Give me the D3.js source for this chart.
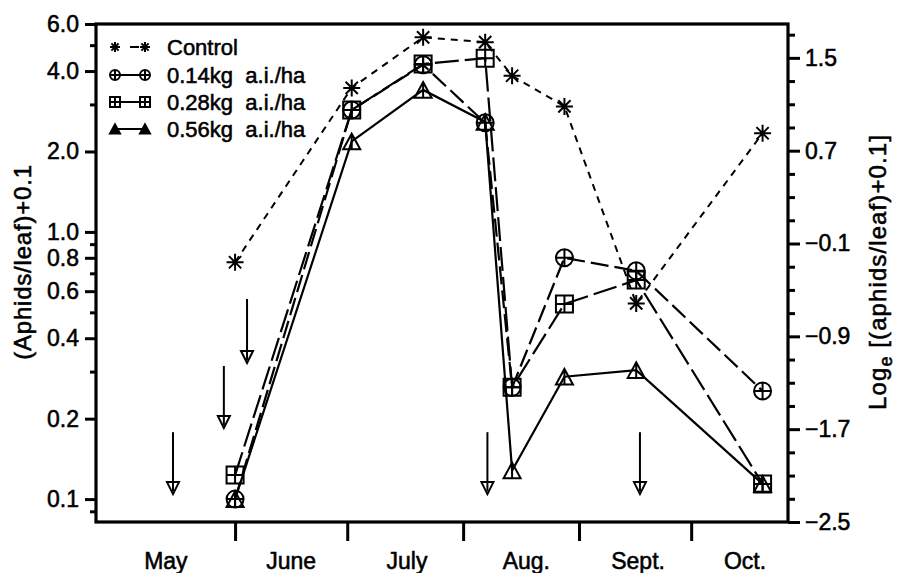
<!DOCTYPE html>
<html><head><meta charset="utf-8">
<script src="https://cdn.jsdelivr.net/npm/d3@7"></script>
<style>body{margin:0;background:#fff}</style>
</head><body>
<svg id="c" width="898" height="573"></svg>
<script>
// ---- data (days counted from 1 May) ----
const sampleDays = [31, 62.2, 81.3, 97.9, 105.1, 119.1, 138.3, 172.1];
const control  = [0.77, 3.46, 5.35, 5.13, 3.84, 2.95, 0.54, 2.34];
const dose014  = [0.10, 2.86, 4.22, 2.56, 0.262, 0.80, 0.715, 0.254];
const dose028  = [0.123, 2.86, 4.25, 4.47, 0.262, 0.537, 0.66, 0.114];
const dose056  = [0.10, 2.18, 3.40, 2.58, 0.128, 0.287, 0.304, 0.114];
const seriesNames = ["Control", "0.14kg  a.i./ha", "0.28kg  a.i./ha", "0.56kg  a.i./ha"];
// spray applications: day, arrow top value, arrow tip value
const sprayDays = [14.4, 28.0, 34.2, 98.5, 139.3];
const sprayTop  = [0.178, 0.315, 0.561, 0.178, 0.178];
const sprayTip  = [0.1044, 0.1845, 0.323, 0.1044, 0.1044];
const monthNames = ["May", "June", "July", "Aug.", "Sept.", "Oct."];
const monthLabelDays = [12.5, 46, 77, 108.9, 138.8, 167.4];
const monthTickDays = [31, 61, 92, 123, 153];
const leftTicks = [0.1, 0.2, 0.4, 0.6, 0.8, 1.0, 2.0, 4.0, 6.0];
const leftTickLabels = ["0.1", "0.2", "0.4", "0.6", "0.8", "1.0", "2.0", "4.0", "6.0"];
const leftMinor = [0.09, 0.3, 0.5, 0.7, 0.9, 3, 5];
const rightTicks = [-2.5, -1.7, -0.9, -0.1, 0.7, 1.5];
const rightMinor = [-2.3, -2.1, -1.9, -1.5, -1.3, -1.1, -0.7, -0.5, -0.3, 0.1, 0.3, 0.5, 0.9, 1.1, 1.3, 1.7];

// ---- layout ----
const L = 96, R = 788, T = 24, B = 522;
const FONT = "'Liberation Sans', Arial, sans-serif";
const TXT_STROKE = 0.55;
const svg = d3.select("#c");
svg.append("rect").attr("width", 898).attr("height", 573).attr("fill", "#fff");

const x = d3.scaleLinear().domain([-6.2, 178.9]).range([L, R]);
const y = d3.scaleLog().domain([Math.exp(-2.5), 6]).range([B, T]);
const yR = d3.scaleLinear().domain([-2.5, Math.log(6)]).range([B, T]);

function boldish(sel) { return sel.attr("stroke", "#000").attr("stroke-width", TXT_STROKE); }

// ---- axes ----
const leftAxis = d3.axisLeft(y).tickValues(leftTicks).tickFormat((d, i) => leftTickLabels[i]).tickSize(11).tickPadding(6);
const gl = svg.append("g").attr("transform", `translate(${L},0)`).call(leftAxis);
const leftMinorAxis = d3.axisLeft(y).tickValues(leftMinor).tickFormat("").tickSize(6);
const glm = svg.append("g").attr("transform", `translate(${L},0)`).call(leftMinorAxis);

const rightAxis = d3.axisRight(yR).tickValues(rightTicks).tickFormat(d => d3.format(".1f")(d).replace("-", "\u2212")).tickSize(12).tickPadding(5);
const gr = svg.append("g").attr("transform", `translate(${R},0)`).call(rightAxis);
const rightMinorAxis = d3.axisRight(yR).tickValues(rightMinor).tickFormat("").tickSize(7);
const grm = svg.append("g").attr("transform", `translate(${R},0)`).call(rightMinorAxis);

const bottomAxis = d3.axisBottom(x).tickValues(monthTickDays).tickFormat("").tickSize(19);
const gb = svg.append("g").attr("transform", `translate(0,${B})`).call(bottomAxis);

[gl, glm, gr, grm, gb].forEach(g => {
  g.select(".domain").remove();
  g.selectAll(".tick line").attr("stroke", "#000").attr("stroke-width", 3);
  boldish(g.selectAll(".tick text").attr("font-family", FONT).attr("font-size", 23).attr("fill", "#000"));
});
gr.selectAll(".tick text").attr("x", 17);

// month labels
boldish(svg.append("g").selectAll("text").data(monthNames).join("text")
  .attr("x", (d, i) => x(monthLabelDays[i])).attr("y", 569)
  .attr("text-anchor", "middle").attr("font-family", FONT).attr("font-size", 23).text(d => d));

// frame
svg.append("rect").attr("x", L).attr("y", T).attr("width", R - L).attr("height", B - T)
  .attr("fill", "none").attr("stroke", "#000").attr("stroke-width", 3.2);

// axis titles
boldish(svg.append("text").attr("transform", `translate(31,262) rotate(-90)`)
  .attr("text-anchor", "middle").attr("font-family", FONT).attr("font-size", 24).attr("letter-spacing", 0.8)
  .text("(Aphids/leaf)+0.1"));
const rt = boldish(svg.append("text").attr("transform", `translate(886,272) rotate(-90)`)
  .attr("text-anchor", "middle").attr("font-family", FONT).attr("font-size", 24).attr("letter-spacing", 1.1));
rt.append("tspan").text("Log");
rt.append("tspan").attr("font-size", 18).attr("dy", 6).text("e");
rt.append("tspan").attr("dy", -6).text(" [(aphids/leaf)+0.1]");

// ---- markers ----
function asterisk(s) {
  const a = s / 2, b = a * 0.72;
  return `M${-a},0L${a},0M0,${-a}L0,${a}M${-b},${-b}L${b},${b}M${-b},${b}L${b},${-b}`;
}
function circlePlus(s) {
  const r = s / 2;
  return `M${r},0A${r},${r} 0 1,1 ${-r},0A${r},${r} 0 1,1 ${r},0Z M${-r},0L${r},0M0,${-r}L0,${r}`;
}
function squarePlus(s) {
  const r = s / 2;
  return `M${-r},${-r}H${r}V${r}H${-r}Z M${-r},0H${r}M0,${-r}V${r}`;
}
function triangle(s) {
  const r = s / 2, h = s * 0.46;
  return `M0,${-h}L${r},${h}L${-r},${h}Z M0,${-h}V${h}`;
}
const series = [
  {name: seriesNames[0], values: control, marker: asterisk, dash: "7,6", sw: 2},
  {name: seriesNames[1], values: dose014, marker: circlePlus, dash: "18,6", sw: 2.2},
  {name: seriesNames[2], values: dose028, marker: squarePlus, dash: "24,6", sw: 2.2},
  {name: seriesNames[3], values: dose056, marker: triangle, dash: null, sw: 2.2}
];
const line = d3.line().x(d => x(d[0])).y(d => y(d[1]));
series.forEach(s => {
  const pts = sampleDays.map((d, i) => [d, s.values[i]]);
  svg.append("path").attr("d", line(pts)).attr("fill", "none").attr("stroke", "#000")
    .attr("stroke-width", s.sw).attr("stroke-dasharray", s.dash);
});
series.forEach(s => {
  const pts = sampleDays.map((d, i) => [d, s.values[i]]);
  svg.append("g").selectAll("path").data(pts).join("path")
    .attr("transform", d => `translate(${x(d[0])},${y(d[1])})`)
    .attr("d", s.marker(17)).attr("fill", "none").attr("stroke", "#000").attr("stroke-width", 2);
});

// ---- spray arrows ----
const ag = svg.append("g");
sprayDays.forEach((d, i) => {
  const xx = x(d), y0 = y(sprayTop[i]), y1 = y(sprayTip[i]);
  ag.append("line").attr("x1", xx).attr("x2", xx).attr("y1", y0).attr("y2", y1)
    .attr("stroke", "#000").attr("stroke-width", 2);
  ag.append("path").attr("d", `M${xx - 6},${y1 - 12}L${xx + 6},${y1 - 12}L${xx},${y1}Z`)
    .attr("fill", "#fff").attr("stroke", "#000").attr("stroke-width", 2);
  ag.append("line").attr("x1", xx).attr("x2", xx).attr("y1", y1 - 12).attr("y2", y1 - 3)
    .attr("stroke", "#000").attr("stroke-width", 2);
});

// ---- legend ----
const legY = [47, 75, 102, 129];
const lg = svg.append("g");
series.forEach((s, i) => {
  const yy = legY[i];
  if (i === 0) {
    lg.append("line").attr("x1", 130).attr("x2", 139).attr("y1", yy).attr("y2", yy).attr("stroke", "#000").attr("stroke-width", 2);
  } else {
    lg.append("line").attr("x1", 115).attr("x2", 145).attr("y1", yy).attr("y2", yy).attr("stroke", "#000").attr("stroke-width", 2);
  }
  [115, 145].forEach(cx => {
    lg.append("path").attr("transform", `translate(${cx},${yy})`).attr("d", s.marker(10))
      .attr("fill", i === 3 ? "#000" : "none").attr("stroke", "#000").attr("stroke-width", 2);
  });
  boldish(lg.append("text").attr("x", 167).attr("y", yy + 8).attr("font-family", FONT).attr("font-size", 22)
    .attr("xml:space", "preserve").style("white-space", "pre").text(s.name));
});
</script>
</body></html>
